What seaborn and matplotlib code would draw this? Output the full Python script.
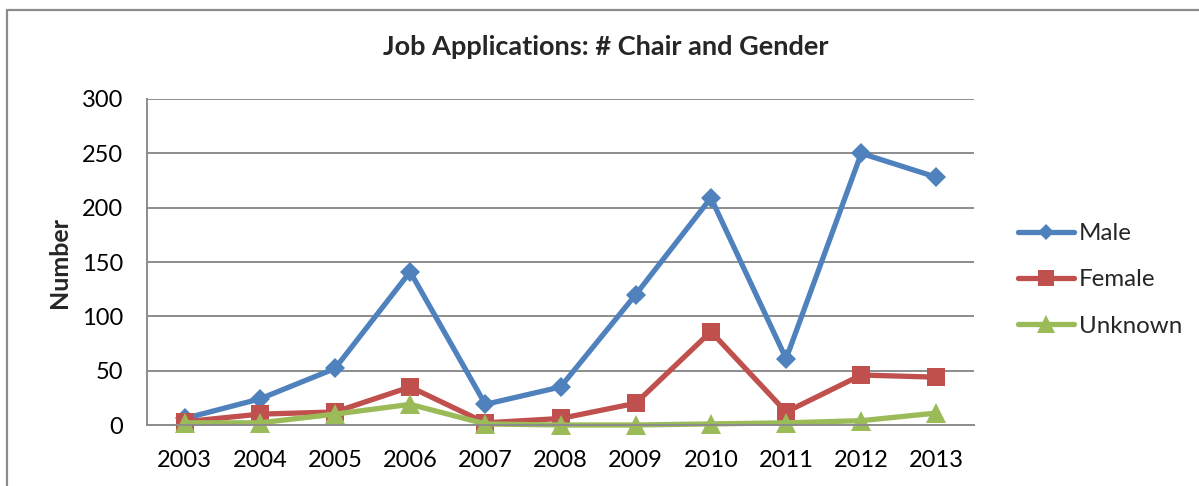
import matplotlib

matplotlib.use("Agg")
import matplotlib.pyplot as plt
import numpy as np
import pandas as pd
import seaborn as sns
from matplotlib.patches import Rectangle

years = ["2003", "2004", "2005", "2006", "2007", "2008", "2009", "2010", "2011", "2012", "2013"]
male = [6, 24, 52, 141, 19, 35, 120, 209, 61, 250, 228]
female = [3, 10, 12, 35, 2, 6, 20, 86, 12, 46, 44]
unknown = [2, 2, 10, 19, 1, 0, 0, 1, 2, 4, 11]
series = ["Male", "Female", "Unknown"]

df = pd.DataFrame(
    {
        "idx": list(range(len(years))) * 3,
        "value": male + female + unknown,
        "series": [s for s in series for _ in years],
    }
)

sns.set_theme(style="white")
plt.rcParams["font.family"] = ["Lato", "DejaVu Sans"]

fig = plt.figure(figsize=(11.99, 4.86), dpi=100)
ax = fig.add_axes([0.1226, 0.1255, 0.6898, 0.6708])

palette = {"Male": "#4F81BD", "Female": "#C0504D", "Unknown": "#9BBB59"}
markers = {"Male": "D", "Female": "s", "Unknown": "^"}
msize = {"Male": 10.2, "Female": 13.5, "Unknown": 14.5}
legend_msize = {"Male": 8, "Female": 12, "Unknown": 12.5}

for name in series:
    sub = df[df["series"] == name]
    sns.lineplot(
        data=sub,
        x="idx",
        y="value",
        color=palette[name],
        marker=markers[name],
        markersize=msize[name],
        markeredgewidth=0,
        linewidth=3.8,
        label=name,
        clip_on=False,
        ax=ax,
    )

ax.set_xlim(-0.5, len(years) - 0.5)
ax.set_ylim(0, 300)
ax.set_yticks(np.arange(0, 301, 50))
ax.set_xticks(range(len(years)))
ax.set_xticklabels(years)
ax.yaxis.grid(True, color="#8C8C8C", linewidth=1.4)
ax.set_axisbelow(True)
ax.tick_params(axis="both", length=0, labelsize=17, colors="black")
ax.tick_params(axis="y", pad=17)
ax.tick_params(axis="x", pad=18)
for side in ["top", "right"]:
    ax.spines[side].set_visible(False)
for side in ["left", "bottom"]:
    ax.spines[side].set_color("#8C8C8C")
    ax.spines[side].set_linewidth(1.4)

ax.set_xlabel("")
ax.set_ylabel("Number", fontsize=18, fontweight="bold", labelpad=8)
fig.suptitle("Job Applications: # Chair and Gender", x=0.505, y=0.928,
             fontsize=19.5, fontweight="bold")

handles, labels = ax.get_legend_handles_labels()
leg = ax.legend(
    handles,
    labels,
    loc="center left",
    bbox_to_anchor=(0.831, 0.424),
    bbox_transform=fig.transFigure,
    frameon=False,
    fontsize=17.4,
    handlelength=2.3,
    handletextpad=0.2,
    labelspacing=1.05,
)
for h, name in zip(leg.legend_handles, labels):
    h.set_markersize(legend_msize[name])

fig.patches.append(
    Rectangle((0.0055, -0.1), 1.2, 1.08, transform=fig.transFigure,
              fill=False, edgecolor="#8C8C8C", linewidth=1.6)
)

fig.savefig("out.png", dpi=100)
